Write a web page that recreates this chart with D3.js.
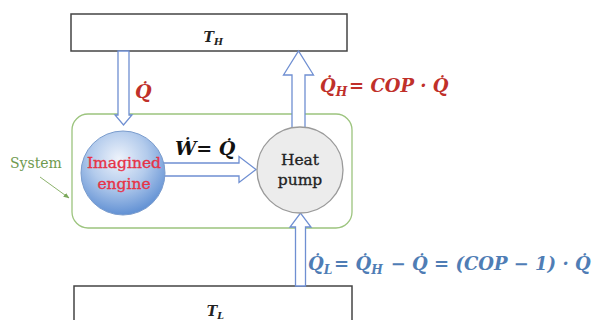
<!DOCTYPE html>
<html><head><meta charset="utf-8">
<script src="https://cdn.jsdelivr.net/npm/d3@7"></script>
<style>html,body{margin:0;padding:0;background:#fff}svg{display:block}</style>
</head><body>
<script>
// Diagram content
const reservoirs = ["T_H", "T_L"];
const nodes = [["Imagined", "engine"], ["Heat", "pump"]];
const flows = ["Q̇", "Ẇ= Q̇", "Q̇_H= COP · Q̇", "Q̇_L= Q̇_H − Q̇ = (COP − 1) · Q̇"];
const systemLabel = "System";

const W = 602, H = 320;
const svg = d3.select("body").append("svg").attr("width", W).attr("height", H);
const defs = svg.append("defs");
const rg = defs.append("radialGradient").attr("id", "eng").attr("cx", "45%").attr("cy", "33%").attr("r", "68%");
rg.append("stop").attr("offset", "0%").attr("stop-color", "#eef3fb");
rg.append("stop").attr("offset", "50%").attr("stop-color", "#b3cbec");
rg.append("stop").attr("offset", "100%").attr("stop-color", "#5f8fd3");
defs.append("marker").attr("id", "gh").attr("viewBox", "0 0 10 10").attr("refX", 9).attr("refY", 5)
  .attr("markerWidth", 6).attr("markerHeight", 6).attr("orient", "auto")
  .append("path").attr("d", "M0,1 L10,5 L0,9 z").attr("fill", "#7aa85a");

const serif = "'DejaVu Serif', 'Liberation Serif', serif";
const mathFont = "'DejaVu Serif', serif";

// block arrow: from (x0,y0) to tip (x1,y1)
function blockArrow(x0, y0, x1, y1, sw, hw, hl) {
  const dx = x1 - x0, dy = y1 - y0, L = Math.hypot(dx, dy);
  const ux = dx / L, uy = dy / L, px = -uy, py = ux;
  const bx = x1 - ux * hl, by = y1 - uy * hl;
  const pts = [
    [x0 + px * sw / 2, y0 + py * sw / 2],
    [bx + px * sw / 2, by + py * sw / 2],
    [bx + px * hw / 2, by + py * hw / 2],
    [x1, y1],
    [bx - px * hw / 2, by - py * hw / 2],
    [bx - px * sw / 2, by - py * sw / 2],
    [x0 - px * sw / 2, y0 - py * sw / 2]
  ];
  svg.append("path").attr("d", d3.line()(pts) + "Z")
    .attr("fill", "#fff").attr("stroke", "#6f8fd2").attr("stroke-width", 1.3);
}

// render text with "_" subscripts
function mathText(g, str, x, y, size, color, anchor) {
  const t = g.append("text").attr("x", x).attr("y", y).attr("font-family", mathFont)
    .attr("font-style", "italic").attr("font-weight", "bold").attr("font-size", size)
    .attr("fill", color).attr("text-anchor", anchor || "start");
  const parts = str.split(/(_[A-Z])/);
  parts.forEach(p => {
    if (p.startsWith("_")) {
      t.append("tspan").attr("font-size", size * 0.68).attr("dy", size * 0.22).text(p.slice(1));
      t.append("tspan").attr("dy", -size * 0.22).text("\u200A");
    } else if (p.length) {
      t.append("tspan").text(p);
    }
  });
  return t;
}

// reservoirs
svg.append("rect").attr("x", 71).attr("y", 14).attr("width", 276).attr("height", 37)
  .attr("fill", "#fff").attr("stroke", "#444").attr("stroke-width", 1.5);
svg.append("rect").attr("x", 74).attr("y", 286).attr("width", 278).attr("height", 50)
  .attr("fill", "#fff").attr("stroke", "#444").attr("stroke-width", 1.5);
mathText(svg, reservoirs[0], 214, 42, 14, "#222", "middle");
mathText(svg, reservoirs[1], 216, 316, 14, "#222", "middle");

// system box
svg.append("rect").attr("x", 72).attr("y", 114).attr("width", 280).attr("height", 114)
  .attr("rx", 16).attr("fill", "none").attr("stroke", "#9cc47e").attr("stroke-width", 1.3);

// arrows
blockArrow(123.5, 51, 123.5, 125, 11, 17, 10);
blockArrow(298.5, 130, 298.5, 51, 13, 30, 24);
blockArrow(300.5, 286, 300.5, 213, 10, 21, 14);
blockArrow(162, 169.5, 256, 169.5, 13, 26, 17);

// nodes
svg.append("circle").attr("cx", 123).attr("cy", 173).attr("r", 42)
  .attr("fill", "url(#eng)").attr("stroke", "#7a9ccd").attr("stroke-width", 1);
svg.append("circle").attr("cx", 300).attr("cy", 170).attr("r", 43)
  .attr("fill", "#ececec").attr("stroke", "#9a9a9a").attr("stroke-width", 1.3);

const n0 = svg.append("text").attr("font-family", serif).attr("font-size", 15.5).attr("fill", "#e63347")
  .attr("stroke", "#e63347").attr("stroke-width", 0.35).attr("text-anchor", "middle");
n0.append("tspan").attr("x", 124).attr("y", 168).text(nodes[0][0]);
n0.append("tspan").attr("x", 124).attr("y", 189).text(nodes[0][1]);
const n1 = svg.append("text").attr("font-family", serif).attr("font-size", 15.5).attr("fill", "#222")
  .attr("stroke", "#222").attr("stroke-width", 0.3).attr("text-anchor", "middle");
n1.append("tspan").attr("x", 300).attr("y", 165).text(nodes[1][0]);
n1.append("tspan").attr("x", 300).attr("y", 185).text(nodes[1][1]);

// flow labels
mathText(svg, flows[0], 135, 98, 19, "#c0302a");
mathText(svg, flows[1], 175, 155, 19, "#111");
mathText(svg, flows[2], 320, 92, 18, "#c0302a");
mathText(svg, flows[3], 308, 270, 18, "#4f7db5");

// system label
svg.append("text").attr("x", 10).attr("y", 168).attr("font-family", serif).attr("font-size", 14)
  .attr("fill", "#6f9a4f").text(systemLabel);
svg.append("line").attr("x1", 40).attr("y1", 177).attr("x2", 69).attr("y2", 198)
  .attr("stroke", "#8db36d").attr("stroke-width", 1).attr("marker-end", "url(#gh)");
</script>
</body></html>
